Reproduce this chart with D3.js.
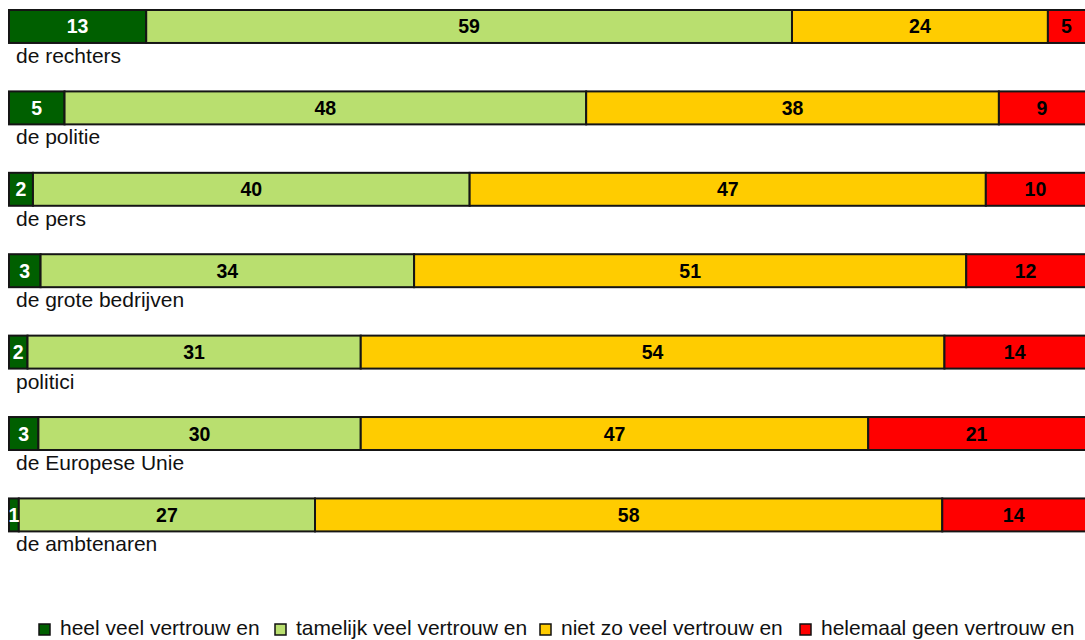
<!DOCTYPE html>
<html>
<head>
<meta charset="utf-8">
<script src="https://cdn.jsdelivr.net/npm/d3@7"></script>
<style>
  html, body { margin: 0; padding: 0; background: #fff; overflow: hidden; }
  svg { display: block; font-family: "Liberation Sans", Arial, sans-serif; }
</style>
</head>
<body>
<div id="chart"></div>
<script>
const categories = ["de rechters", "de politie", "de pers", "de grote bedrijven", "politici", "de Europese Unie", "de ambtenaren"];
const seriesNames = ["heel veel vertrouw en", "tamelijk veel vertrouw en", "niet zo veel vertrouw en", "helemaal geen vertrouw en"];
const heelVeel     = [12.6,  5.1,  2.2,  2.9,  1.7,  2.7,  0.9];
const tamelijkVeel = [59.3, 47.9, 40.1, 34.3, 30.6, 29.6, 27.2];
const nietZoVeel   = [23.5, 37.9, 47.4, 50.7, 53.6, 46.6, 57.6];
const helemaalGeen = [ 4.6,  9.1, 10.3, 12.1, 14.1, 21.1, 14.3];
const colors = ["#005f00", "#b9df6f", "#ffcc00", "#ff0000"];
const labelColors = ["#ffffff", "#000000", "#000000", "#000000"];

const W = 1085, H = 640;
const svg = d3.select("#chart").append("svg").attr("width", W).attr("height", H);

const rows = categories.map((c, i) => ({
  cat: c,
  vals: [heelVeel[i], tamelijkVeel[i], nietZoVeel[i], helemaalGeen[i]]
}));

const x = d3.scaleLinear().domain([0, 100]).range([9, 1098]);
const y = d3.scaleBand().domain(categories).range([10, 531.4]).paddingInner(0.595).paddingOuter(0).align(0);

const stack = d3.stack().keys([0, 1, 2, 3]).value((d, k) => d.vals[k]);
const layers = stack(rows);

const g = svg.append("g");
layers.forEach((layer, k) => {
  const lg = g.append("g");
  lg.selectAll("rect").data(layer).join("rect")
    .attr("x", d => x(d[0]))
    .attr("y", d => y(d.data.cat))
    .attr("width", d => x(d[1]) - x(d[0]))
    .attr("height", y.bandwidth())
    .attr("fill", colors[k])
    .attr("stroke", "#151515")
    .attr("stroke-width", 2);
});
layers.forEach((layer, k) => {
  g.append("g").selectAll("text").data(layer).join("text")
    .attr("x", d => (x(d[0]) + Math.min(x(d[1]), W)) / 2)
    .attr("y", d => y(d.data.cat) + y.bandwidth() / 2 + 7)
    .attr("text-anchor", "middle")
    .attr("font-weight", "bold")
    .attr("font-size", 19.5)
    .attr("fill", labelColors[k])
    .text(d => Math.round(d[1] - d[0]));
});

svg.append("g").selectAll("text").data(categories).join("text")
  .attr("x", 16)
  .attr("y", d => y(d) + y.bandwidth() + 20)
  .attr("font-size", 21)
  .attr("fill", "#111")
  .text(d => d);

// legend
const legendX = [39, 275, 540, 800];
const lg = svg.append("g");
seriesNames.forEach((s, k) => {
  lg.append("rect").attr("x", legendX[k]).attr("y", 624).attr("width", 11).attr("height", 11)
    .attr("fill", colors[k]).attr("stroke", "#111").attr("stroke-width", 1.5);
  lg.append("text").attr("x", legendX[k] + 21).attr("y", 635)
    .attr("font-size", 21).attr("fill", "#111").text(s);
});
</script>
</body>
</html>
